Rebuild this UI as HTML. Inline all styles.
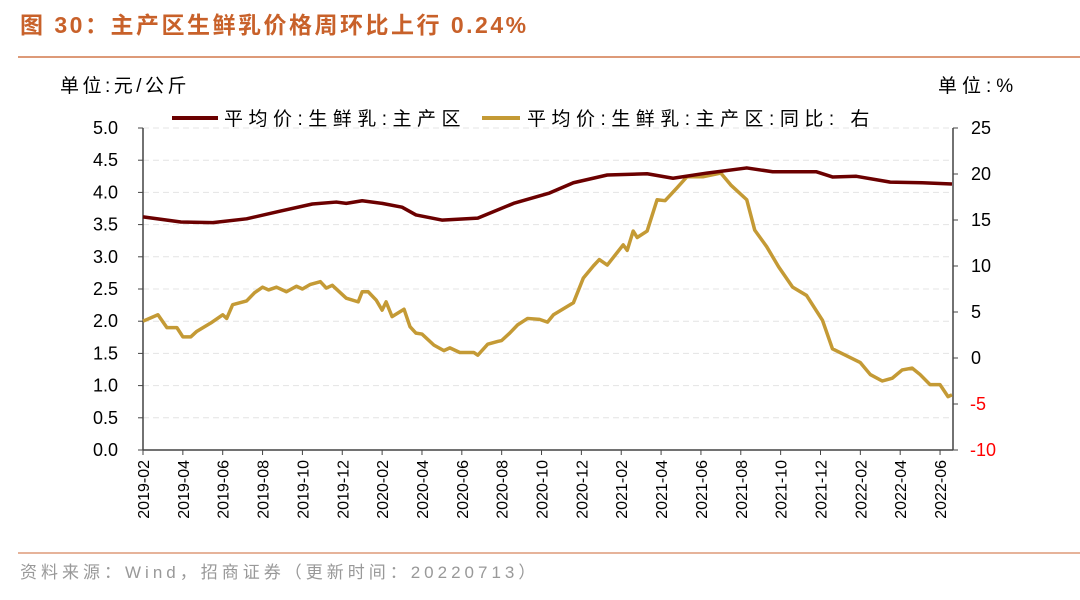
<!DOCTYPE html>
<html><head><meta charset="utf-8"><style>
body{margin:0;background:#fff;width:1080px;height:595px;overflow:hidden;font-family:"Liberation Sans","Noto Sans CJK SC",sans-serif;}
</style></head><body>
<svg width="1080" height="595" xmlns="http://www.w3.org/2000/svg" font-family="Liberation Sans, Noto Sans CJK SC, sans-serif">
<text x="20" y="33" font-size="23" font-weight="bold" fill="#c8612a" letter-spacing="2.5">图 30：主产区生鲜乳价格周环比上行 0.24%</text>
<line x1="18" y1="57" x2="1080" y2="57" stroke="#dd9a78" stroke-width="2"/>
<text x="60" y="92" font-size="19" fill="#000" letter-spacing="3.5">单位:元/公斤</text>
<text x="938" y="92" font-size="19" fill="#000" letter-spacing="5">单位:%</text>
<g>
<line x1="172" y1="118" x2="218" y2="118" stroke="#6b0000" stroke-width="4"/>
<text x="224" y="125" font-size="19" letter-spacing="5.5">平均价:生鲜乳:主产区</text>
<line x1="482" y1="118" x2="520" y2="118" stroke="#c49a35" stroke-width="4"/>
<text x="527" y="125" font-size="19" letter-spacing="5.5">平均价:生鲜乳:主产区:同比: 右</text>
</g>
<g id="grid"></g><g id="axes"></g><g id="series"></g>
<line x1="18" y1="553" x2="1080" y2="553" stroke="#dd9a78" stroke-width="1.5"/>
<text x="20" y="578" font-size="17" fill="#999" letter-spacing="4">资料来源：Wind，招商证券（更新时间：20220713）</text>
</svg>
<script>
const leftTicks=[0,0.5,1,1.5,2,2.5,3,3.5,4,4.5,5];
const rightTicks=[-10,-5,0,5,10,15,20,25];
const monthLabels=["2019-02","2019-04","2019-06","2019-08","2019-10","2019-12","2020-02","2020-04","2020-06","2020-08","2020-10","2020-12","2021-02","2021-04","2021-06","2021-08","2021-10","2021-12","2022-02","2022-04","2022-06"];
const priceMonths=[0,1.9,3.5,5.2,6.9,8.5,9.7,10.2,11,12,13,13.7,15,16.8,18.6,20.4,21.6,23.3,25.3,26.6,28.3,30.3,31.6,33.8,34.6,35.8,37.5,39.1,40.6];
const priceValues=[3.62,3.54,3.53,3.59,3.71,3.82,3.85,3.83,3.87,3.83,3.77,3.65,3.57,3.60,3.83,3.99,4.15,4.27,4.29,4.22,4.30,4.38,4.32,4.32,4.24,4.25,4.16,4.15,4.13];
const yoyMonths=[0,0.75,1.2,1.7,2,2.4,2.7,3.4,4,4.2,4.5,5.2,5.6,6,6.3,6.7,7.2,7.7,8,8.4,8.9,9.2,9.5,10.2,10.8,11,11.3,11.7,12,12.2,12.5,13.1,13.4,13.7,14,14.6,15.1,15.4,15.9,16.6,16.8,17.3,17.8,18,18.4,18.8,19.3,19.9,20.3,20.6,21.6,22.1,22.6,22.9,23.3,24.1,24.3,24.6,24.8,25.3,25.8,26.2,26.8,27.3,28.1,29,29.5,30.3,30.7,31.3,31.9,32.6,33.3,34.1,34.6,36,36.5,37.1,37.6,38.1,38.6,39,39.5,40,40.4,40.6];
const yoyValues=[4.0,4.7,3.3,3.3,2.3,2.3,2.9,3.8,4.7,4.3,5.8,6.2,7.1,7.7,7.4,7.7,7.2,7.8,7.5,8.0,8.3,7.6,7.9,6.5,6.1,7.2,7.2,6.3,5.2,6.1,4.5,5.3,3.4,2.7,2.6,1.4,0.8,1.1,0.6,0.6,0.3,1.5,1.8,1.9,2.7,3.6,4.3,4.2,3.9,4.7,6.0,8.7,10.0,10.7,10.1,12.3,11.7,13.8,13.1,13.8,17.2,17.1,18.5,19.7,19.7,20.1,18.8,17.2,13.9,12.1,9.9,7.7,6.8,4.1,1.0,-0.5,-1.8,-2.5,-2.2,-1.3,-1.1,-1.8,-2.9,-2.9,-4.2,-4.0];
const X0=143,X1=953,Y0=128,Y1=450,MMAX=40.65;
const xs=m=>X0+(X1-X0)*m/MMAX;
const yl=v=>Y1-(v-0)/(5-0)*(Y1-Y0);
const yr=v=>Y1-(v+10)/35*(Y1-Y0);
const NS="http://www.w3.org/2000/svg";
function mk(t,a,p){const e=document.createElementNS(NS,t);for(const k in a)e.setAttribute(k,a[k]);p.appendChild(e);return e;}
const grid=document.getElementById('grid'),axes=document.getElementById('axes'),series=document.getElementById('series');
leftTicks.forEach(v=>{
 const y=yl(v);
 if(v>0){const g=mk('line',{x1:X0,x2:X1,y1:y,y2:y,stroke:'#e4e4e4','stroke-dasharray':'6,4'},grid);
 
 }
 const t=mk('line',{x1:X0-5,x2:X0,y1:y,y2:y,stroke:'#444'},axes);
 
 
 const l=mk('text',{x:118,y:y+6,'font-size':18,'text-anchor':'end'},axes);l.textContent=v.toFixed(1);
 
 
});
rightTicks.forEach(v=>{
 const y=yr(v);
 const t=mk('line',{x1:X1,x2:X1+5,y1:y,y2:y,stroke:'#444'},axes);
 
 
 const l=mk('text',{x:v<0?970:971,y:y+6,'font-size':18,'text-anchor':'start',fill:v<0?'#ff0000':'#000'},axes);l.textContent=v;
 
 
});
let a=mk('line',{x1:X0,x2:X0,y1:Y0,y2:Y1,stroke:'#444','stroke-width':1.5},axes);


a=mk('line',{x1:X1,x2:X1,y1:Y0,y2:Y1,stroke:'#444','stroke-width':1.5},axes);


a=mk('line',{x1:X0,x2:X1,y1:Y1,y2:Y1,stroke:'#444','stroke-width':1.5},axes);


monthLabels.forEach((s,i)=>{
 const x=xs(i*2);
 const t=mk('line',{x1:x,x2:x,y1:Y1,y2:Y1+5,stroke:'#444'},axes);
 
 
 const l=mk('text',{x:0,y:0,'font-size':16,'text-anchor':'end',transform:`translate(${x+6},${Y1+10}) rotate(-90)`},axes);l.textContent=s;
 
 
});
let p=mk('polyline',{points:yoyMonths.map((m,i)=>xs(m)+','+yr(yoyValues[i])).join(' '),fill:'none',stroke:'#c49a35','stroke-width':3.5,'stroke-linejoin':'round'},series);


p=mk('polyline',{points:priceMonths.map((m,i)=>xs(m)+','+yl(priceValues[i])).join(' '),fill:'none',stroke:'#6b0000','stroke-width':3.5,'stroke-linejoin':'round'},series);


</script>
</body></html>
